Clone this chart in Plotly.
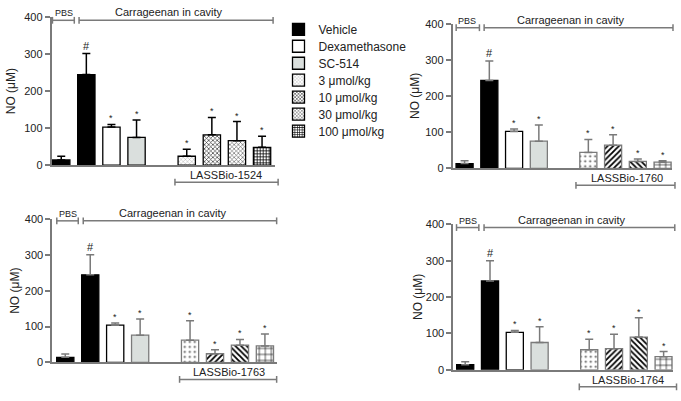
import plotly.graph_objects as go

# ---------------- data ----------------
categories = ["PBS", "Vehicle", "Dexamethasone", "SC-514",
              "3 μmol/kg", "10 μmol/kg", "30 μmol/kg", "100 μmol/kg"]
x_positions = [0, 1, 2, 3, 5, 6, 7, 8]
compounds = ["LASSBio-1524", "LASSBio-1760", "LASSBio-1763", "LASSBio-1764"]

no_1524 = [14, 245, 103, 75, 24, 82, 66, 48]
sem_1524 = [10, 57, 7, 47, 19, 47, 52, 30]
no_1760 = [13, 243, 102, 75, 44, 64, 19, 17]
sem_1760 = [8, 54, 7, 45, 36, 29, 7, 4]
no_1763 = [14, 245, 104, 76, 62, 24, 48, 46]
sem_1763 = [9, 56, 6, 45, 54, 11, 16, 33]
no_1764 = [14, 244, 103, 75, 55, 58, 90, 36]
sem_1764 = [8, 56, 5, 43, 29, 40, 53, 14]
signif = ["", "#", "*", "*", "*", "*", "*", "*"]
y_ticks = [0, 100, 200, 300, 400]

means = [no_1524, no_1760, no_1763, no_1764]
sems = [sem_1524, sem_1760, sem_1763, sem_1764]

# ---------------- layout config ----------------
W, H = 681, 401
FONT = "Liberation Sans, Arial, sans-serif"
GRAY = "#7a7a7a"

panels = [
    dict(px=(51.7, 275.1), py=(11.7, 164.0), xr=(-0.38, 8.52),
         pbs=(-0.35, 0.52), carr=(0.71, 8.44), lass=(4.53, 8.64), top=392, title_x=11),
    dict(px=(452.7, 672.0), py=(18.3, 167.3), xr=(-0.48, 8.38),
         pbs=(-0.34, 0.60), carr=(0.79, 8.42), lass=(4.50, 8.50), top=389, title_x=415),
    dict(px=(52.3, 276.9), py=(220.0, 367.3), xr=(-0.52, 8.48),
         pbs=(-0.34, 0.52), carr=(0.72, 8.47), lass=(4.58, 8.47), top=396, title_x=15),
    dict(px=(453.3, 672.8), py=(225.0, 375.0), xr=(-0.48, 8.37),
         pbs=(-0.35, 0.55), carr=(0.76, 8.45), lass=(4.60, 8.52), top=391, title_x=418),
]


def legend_key(idx):
    return "legend" if idx == 0 else "legend" + str(idx + 1)


def style_for(panel, c):
    """returns fill color, line color, pattern dict"""
    if c in (0, 1):
        return "black", "black", None
    if c == 2:
        return "white", "black", None
    if c == 3:
        return "#dadfdd", "black" if panel == 0 else GRAY, None
    if panel == 0:
        pats = {4: dict(shape="x", size=3, solidity=0.2, fgcolor="#888888"),
                5: dict(shape="x", size=3, solidity=0.4, fgcolor="#333333"),
                6: dict(shape="x", size=3, solidity=0.35, fgcolor="#555555"),
                7: dict(shape="+", size=3, solidity=0.45, fgcolor="black")}
        lc = "black"
    else:
        pats = {4: dict(shape=".", size=5, solidity=0.15, fgcolor="#555555"),
                5: dict(shape="/", size=4, solidity=0.45, fgcolor="black"),
                6: dict(shape="\\", size=4, solidity=0.45, fgcolor="black"),
                7: dict(shape="+", size=6, solidity=0.2, fgcolor="black")}
        lc = GRAY
    p = pats[c]
    p.update(bgcolor="white", fillmode="replace")
    return "white", lc, p


fig = go.Figure()
shapes, annotations = [], []
legend_rows = [24 + 17.5 * i for i in range(7)]

for p, cfg in enumerate(panels):
    sfx = "" if p == 0 else str(p + 1)
    xa, ya = "x" + sfx, "y" + sfx
    err_color = "black" if p == 0 else GRAY
    for c in range(len(categories)):
        fill, lc, pat = style_for(p, c)
        marker = dict(color=fill, line=dict(color=lc, width=1.3))
        if pat:
            marker["pattern"] = pat
        show = (p == 0 and c >= 1)
        kw = {}
        if show:
            kw["legend"] = legend_key(c - 1)
        fig.add_trace(go.Bar(
            x=[x_positions[c]], y=[means[p][c]], width=0.69,
            name=categories[c], marker=marker, showlegend=show, hoverinfo="skip",
            error_y=dict(type="data", array=[sems[p][c]], arrayminus=[0],
                         symmetric=False, color=err_color, thickness=1.5, width=4),
            xaxis=xa, yaxis=ya, **kw))
        if signif[c]:
            annotations.append(dict(
                x=x_positions[c], y=means[p][c] + sems[p][c], xref=xa, yref=ya,
                text=signif[c], showarrow=False, xanchor="center", yanchor="bottom",
                yshift=-1 if signif[c] == "*" else 0,
                font=dict(size=9 if signif[c] == "*" else 11, color="#222", family=FONT)))

    x0, x1 = cfg["px"]
    ytop, ybot = cfg["py"]
    hpx = ybot - ytop
    fig.layout["xaxis" + sfx] = dict(
        domain=[x0 / W, x1 / W], range=list(cfg["xr"]), anchor=ya,
        showline=True, linecolor=GRAY, linewidth=1.8, showticklabels=False,
        ticks="", showgrid=False, zeroline=False, fixedrange=True)
    fig.layout["yaxis" + sfx] = dict(
        domain=[1 - ybot / H, 1 - ytop / H], range=[0, 400], anchor=xa,
        tickvals=y_ticks, showline=True, linecolor=GRAY, linewidth=1.8,
        ticks="outside", ticklen=5, tickwidth=1.5, tickcolor=GRAY,
        tickfont=dict(size=11, color="#222", family=FONT),
        showgrid=False, zeroline=False, fixedrange=True)

    xd = "x" + sfx + " domain"
    yd = "y" + sfx + " domain"
    span = cfg["xr"][1] - cfg["xr"][0]
    fx = lambda v, r0=cfg["xr"][0], s=span: (v - r0) / s
    tick = 3.5 / hpx

    def bracket(xs, yf):
        a, b = fx(xs[0]), fx(xs[1])
        shapes.append(dict(type="line", xref=xd, yref=yd, x0=a, x1=b, y0=yf, y1=yf,
                           line=dict(color=GRAY, width=1.5)))
        for e in (a, b):
            shapes.append(dict(type="line", xref=xd, yref=yd, x0=e, x1=e,
                               y0=yf - tick, y1=yf + tick, line=dict(color=GRAY, width=1.5)))

    ytf = cfg["top"] / 400
    bracket(cfg["pbs"], ytf)
    bracket(cfg["carr"], ytf)
    ylf = -17.6 / hpx
    bracket(cfg["lass"], ylf)

    annotations.append(dict(x=fx(0.1), y=ytf, xref=xd, yref=yd, text="PBS",
                            showarrow=False, xanchor="center", yanchor="bottom",
                            font=dict(size=9, color="#222", family=FONT)))
    annotations.append(dict(x=fx(4.3), y=ytf, xref=xd, yref=yd,
                            text="Carrageenan in cavity", showarrow=False,
                            xanchor="center", yanchor="bottom",
                            font=dict(size=11, color="#222", family=FONT)))
    annotations.append(dict(x=fx(6.55), y=-10.5 / hpx, xref=xd, yref=yd,
                            text=compounds[p], showarrow=False,
                            xanchor="center", yanchor="middle",
                            font=dict(size=11, color="#222", family=FONT)))
    annotations.append(dict(x=cfg["title_x"] / W, y=1 - (ytop + ybot) / 2 / H,
                            xref="paper", yref="paper", text="NO (μM)", textangle=-90,
                            showarrow=False, xanchor="center", yanchor="middle",
                            font=dict(size=12, color="#222", family=FONT)))

legends = {}
for i, ry in enumerate(legend_rows):
    legends[legend_key(i)] = dict(x=(298.5 - 20) / W, y=1 - ry / H,
                                  xanchor="left", yanchor="middle",
                                  bgcolor="rgba(0,0,0,0)", borderwidth=0,
                                  font=dict(size=12, color="#222", family=FONT))
fig.update_layout(**legends)

fig.update_layout(
    width=W, height=H, margin=dict(l=0, r=0, t=0, b=0),
    paper_bgcolor="white", plot_bgcolor="white", barmode="overlay",
    shapes=shapes, annotations=annotations, font=dict(family=FONT),
)

fig.write_html("out.html", config={"displayModeBar": False},
               post_script="document.body.style.margin='0';document.body.style.overflow='hidden';")
